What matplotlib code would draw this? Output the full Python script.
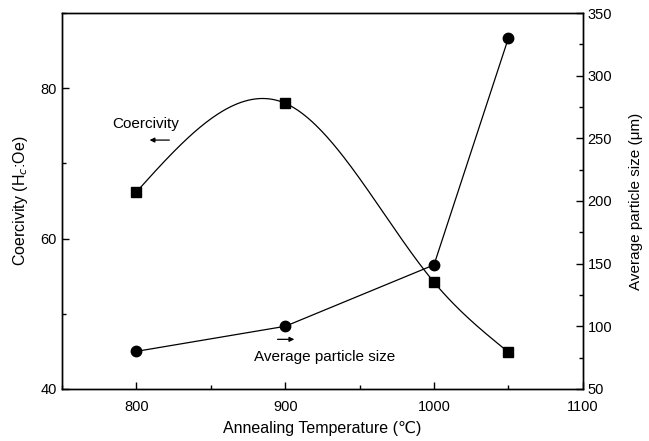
import numpy as np
import matplotlib
matplotlib.use('Agg')
import matplotlib.pyplot as plt
from matplotlib.ticker import MultipleLocator

temps = [800, 900, 1000, 1050]
coercivity = [66.2, 78.0, 54.2, 44.9]
particle_size = [80, 100, 149, 330]


def natural_spline(x, y, n=200):
    # plain natural cubic spline, only used to draw the smooth curve
    x = np.asarray(x, float)
    y = np.asarray(y, float)
    k = len(x)
    h = np.diff(x)
    A = np.zeros((k, k))
    b = np.zeros(k)
    A[0, 0] = A[-1, -1] = 1
    for i in range(1, k - 1):
        A[i, i - 1] = h[i - 1]
        A[i, i] = 2 * (h[i - 1] + h[i])
        A[i, i + 1] = h[i]
        b[i] = 6 * ((y[i + 1] - y[i]) / h[i] - (y[i] - y[i - 1]) / h[i - 1])
    m = np.linalg.solve(A, b)
    xs = np.linspace(x[0], x[-1], n)
    idx = np.clip(np.searchsorted(x, xs) - 1, 0, k - 2)
    x0, x1 = x[idx], x[idx + 1]
    hh = x1 - x0
    t0, t1 = x1 - xs, xs - x0
    ys = (m[idx] * t0**3 + m[idx + 1] * t1**3) / (6 * hh) \
        + (y[idx] / hh - m[idx] * hh / 6) * t0 \
        + (y[idx + 1] / hh - m[idx + 1] * hh / 6) * t1
    return xs, ys


plt.rcParams['font.family'] = ['Liberation Sans', 'DejaVu Sans']

fig = plt.figure(figsize=(6.49, 4.41), dpi=100)
ax = fig.add_axes([0.0955, 0.118, 0.8025, 0.8525])
ax2 = ax.twinx()

xs, ys = natural_spline(temps, coercivity)
ax.plot(xs, ys, color='black', lw=0.9)
ax.plot(temps, coercivity, 's', color='black', ms=7)

ax2.plot(temps, particle_size, '-', color='black', lw=0.9)
ax2.plot(temps, particle_size, 'o', color='black', ms=7.5)

ax.set_xlim(750, 1100)
ax.set_ylim(40, 90)
ax2.set_ylim(50, 350)
ax.xaxis.set_major_locator(MultipleLocator(100))
ax.xaxis.set_minor_locator(MultipleLocator(50))
ax.yaxis.set_major_locator(MultipleLocator(20))
ax.yaxis.set_minor_locator(MultipleLocator(10))
ax2.yaxis.set_major_locator(MultipleLocator(50))
ax2.yaxis.set_minor_locator(MultipleLocator(25))

for a in (ax, ax2):
    a.tick_params(which='major', direction='in', length=5, width=1, labelsize=10.5)
    a.tick_params(which='minor', direction='in', length=3, width=1)
    for s in a.spines.values():
        s.set_linewidth(1)
ax.tick_params(axis='x', pad=8)

ax.set_xlabel('Annealing Temperature (\u2103)', fontsize=11.5, labelpad=5)
ax.set_ylabel('Coercivity (H$_c$:Oe)', fontsize=11.5, labelpad=8)
ax2.set_ylabel('Average particle size (\u03bcm)', fontsize=11, labelpad=12)

ax.text(784, 75.3, 'Coercivity', fontsize=11, ha='left', va='center')
ax.annotate('', xy=(807, 73.1), xytext=(824, 73.1),
            arrowprops=dict(arrowstyle='-|>', color='black', lw=0.9, mutation_scale=7))
ax.text(879, 44.3, 'Average particle size', fontsize=11, ha='left', va='center')
ax.annotate('', xy=(908, 46.6), xytext=(893, 46.6),
            arrowprops=dict(arrowstyle='-|>', color='black', lw=0.9, mutation_scale=7))

fig.savefig('out.png', dpi=100)
